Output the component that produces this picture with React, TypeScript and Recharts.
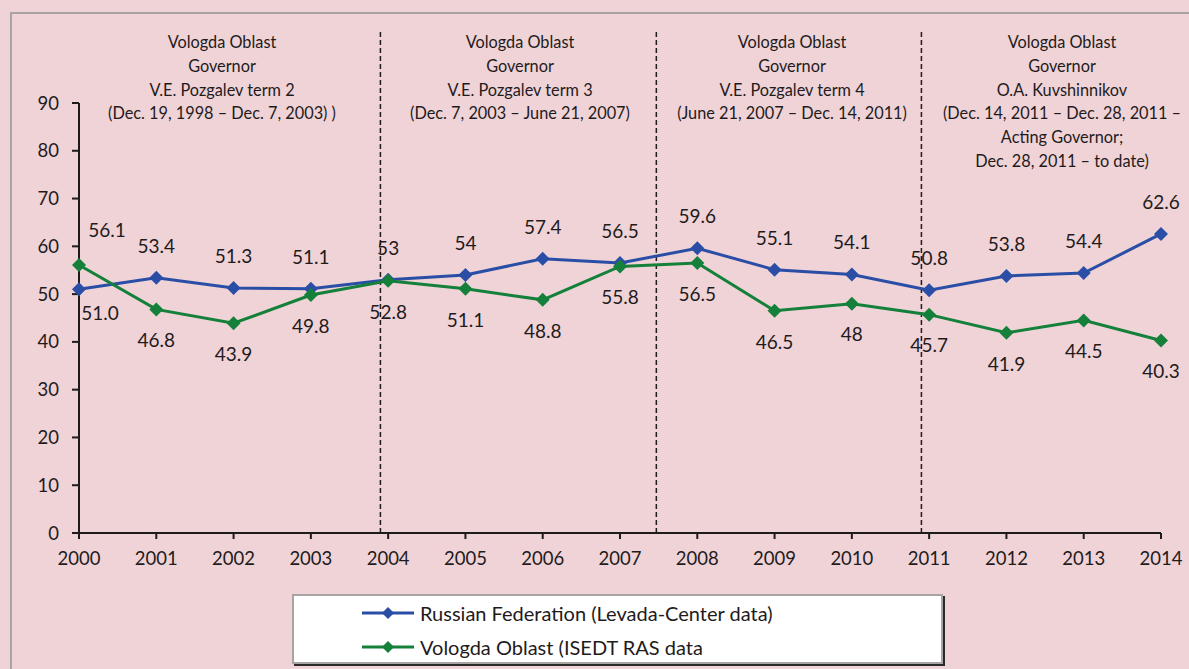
import {
  LabelList,
  Line,
  LineChart,
  ReferenceLine,
  XAxis,
  YAxis,
} from "recharts";

const years = [2000, 2001, 2002, 2003, 2004, 2005, 2006, 2007, 2008, 2009, 2010, 2011, 2012, 2013, 2014];
const russia = [51.0, 53.4, 51.3, 51.1, 53, 54, 57.4, 56.5, 59.6, 55.1, 54.1, 50.8, 53.8, 54.4, 62.6];
const russiaLabels = ["51.0", "53.4", "51.3", "51.1", "53", "54", "57.4", "56.5", "59.6", "55.1", "54.1", "50.8", "53.8", "54.4", "62.6"];
const vologda = [56.1, 46.8, 43.9, 49.8, 52.8, 51.1, 48.8, 55.8, 56.5, 46.5, 48, 45.7, 41.9, 44.5, 40.3];
const vologdaLabels = ["56.1", "46.8", "43.9", "49.8", "52.8", "51.1", "48.8", "55.8", "56.5", "46.5", "48", "45.7", "41.9", "44.5", "40.3"];
const yTicks = [0, 10, 20, 30, 40, 50, 60, 70, 80, 90];
const termBreaks = [2003.9, 2007.47, 2010.9];
const seriesNames = ["Russian Federation (Levada-Center data)", "Vologda Oblast (ISEDT RAS data"];

const termNotes = [
  ["Vologda Oblast", "Governor", "V.E. Pozgalev term 2", "(Dec. 19, 1998 \u2013 Dec. 7, 2003) )"],
  ["Vologda Oblast", "Governor", "V.E. Pozgalev term 3", "(Dec. 7, 2003 \u2013 June 21, 2007)"],
  ["Vologda Oblast", "Governor", "V.E. Pozgalev term 4", "(June 21, 2007 \u2013 Dec. 14, 2011)"],
  [
    "Vologda Oblast",
    "Governor",
    "O.A. Kuvshinnikov",
    "(Dec. 14, 2011 \u2013 Dec. 28, 2011 \u2013",
    "Acting Governor;",
    "Dec. 28, 2011 \u2013 to date)",
  ],
];
const noteCenters = [222, 520, 792, 1062];

const data = years.map((year, i) => ({ year, russia: russia[i], vologda: vologda[i] }));

const BLUE = "#2a4ea6";
const GREEN = "#14803a";
const INK = "#1f1b1c";
const BG = "#efd3d7";
const FONT = "Lato, 'Open Sans', sans-serif";

function diamond(color: string) {
  return (props: any) => {
    const { cx, cy, index } = props;
    if (cx == null || cy == null) return <g key={index} />;
    const r = 7;
    return (
      <polygon
        key={index}
        fill={color}
        points={`${cx},${cy - r} ${cx + r},${cy} ${cx},${cy + r} ${cx - r},${cy}`}
      />
    );
  };
}

function valueLabel(texts: string[], dy: number, firstDx: number, firstDy: number) {
  return (props: any) => {
    const { x, y, index } = props;
    const first = index === 0;
    return (
      <text
        dominantBaseline="middle"
        fill={INK}
        fontFamily={FONT}
        fontSize={19}
        key={index}
        textAnchor="middle"
        x={x + (first ? firstDx : 0)}
        y={y + (first ? firstDy : dy)}
      >
        {texts[index]}
      </text>
    );
  };
}

function LegendMarker({ color }: { color: string }) {
  return (
    <svg height={14} style={{ marginRight: 4 }} width={54}>
      <line stroke={color} strokeWidth={3} x1={0} x2={52} y1={7} y2={7} />
      <polygon fill={color} points="26,1 32,7 26,13 20,7" />
    </svg>
  );
}

export default function App() {
  return (
    <div
      style={{
        position: "absolute",
        left: 0,
        top: 0,
        width: 1189,
        height: 669,
        background: BG,
        overflow: "hidden",
        fontFamily: FONT,
        color: INK,
      }}
    >
      <div
        style={{
          position: "absolute",
          left: 10,
          top: 12,
          width: 1300,
          height: 800,
          border: "2px solid #a8a4a6",
        }}
      />
      {termNotes.map((lines, i) => (
        <div
          key={i}
          style={{
            position: "absolute",
            left: noteCenters[i] - 170,
            width: 340,
            top: 30,
            textAlign: "center",
            fontSize: 16.3,
            lineHeight: "23.8px",
          }}
        >
          {lines.map((line) => (
            <div key={line}>{line}</div>
          ))}
        </div>
      ))}
      <div style={{ position: "absolute", left: 0, top: 0 }}>
        <LineChart data={data} height={669} margin={{ top: 103, right: 28, bottom: 106, left: 39 }} width={1189}>
          <XAxis
            allowDecimals={false}
            axisLine={{ stroke: INK, strokeWidth: 2 }}
            dataKey="year"
            domain={[2000, 2014]}
            height={30}
            tick={{ fill: INK, fontSize: 18.5, fontFamily: FONT }}
            tickLine={{ stroke: INK, strokeWidth: 2 }}
            tickMargin={13}
            tickSize={6}
            ticks={years}
            type="number"
          />
          <YAxis
            axisLine={{ stroke: INK, strokeWidth: 2 }}
            domain={[0, 90]}
            tick={{ fill: INK, fontSize: 18.5, fontFamily: FONT }}
            tickLine={{ stroke: INK, strokeWidth: 2 }}
            tickMargin={13}
            tickSize={7}
            ticks={yTicks}
            width={40}
          />
          {termBreaks.map((x) => (
            <ReferenceLine
              ifOverflow="visible"
              key={x}
              segment={[
                { x, y: 0 },
                { x, y: 105 },
              ]}
              stroke={INK}
              strokeDasharray="5 3"
              strokeWidth={1.5}
            />
          ))}
          <Line
            activeDot={false}
            dataKey="russia"
            dot={diamond(BLUE)}
            isAnimationActive={false}
            name={seriesNames[0]}
            stroke={BLUE}
            strokeWidth={3}
            type="linear"
          >
            <LabelList content={valueLabel(russiaLabels, -30, 21, 26)} dataKey="russia" />
          </Line>
          <Line
            activeDot={false}
            dataKey="vologda"
            dot={diamond(GREEN)}
            isAnimationActive={false}
            name={seriesNames[1]}
            stroke={GREEN}
            strokeWidth={3}
            type="linear"
          >
            <LabelList content={valueLabel(vologdaLabels, 33, 28, -33)} dataKey="vologda" />
          </Line>
        </LineChart>
      </div>
      <div
        style={{
          position: "absolute",
          left: 292,
          top: 594,
          width: 647,
          height: 66,
          background: "#fff",
          border: "2px solid #a8a4a6",
          boxShadow: "2px 2px 0 #2a2a2a",
          boxSizing: "content-box",
          fontSize: 20,
        }}
      >
        {seriesNames.map((name, i) => (
          <div
            key={name}
            style={{
              position: "absolute",
              left: 68,
              top: 4 + i * 34,
              height: 26,
              display: "flex",
              alignItems: "center",
              whiteSpace: "nowrap",
            }}
          >
            <LegendMarker color={i === 0 ? BLUE : GREEN} />
            {name}
          </div>
        ))}
      </div>
    </div>
  );
}
